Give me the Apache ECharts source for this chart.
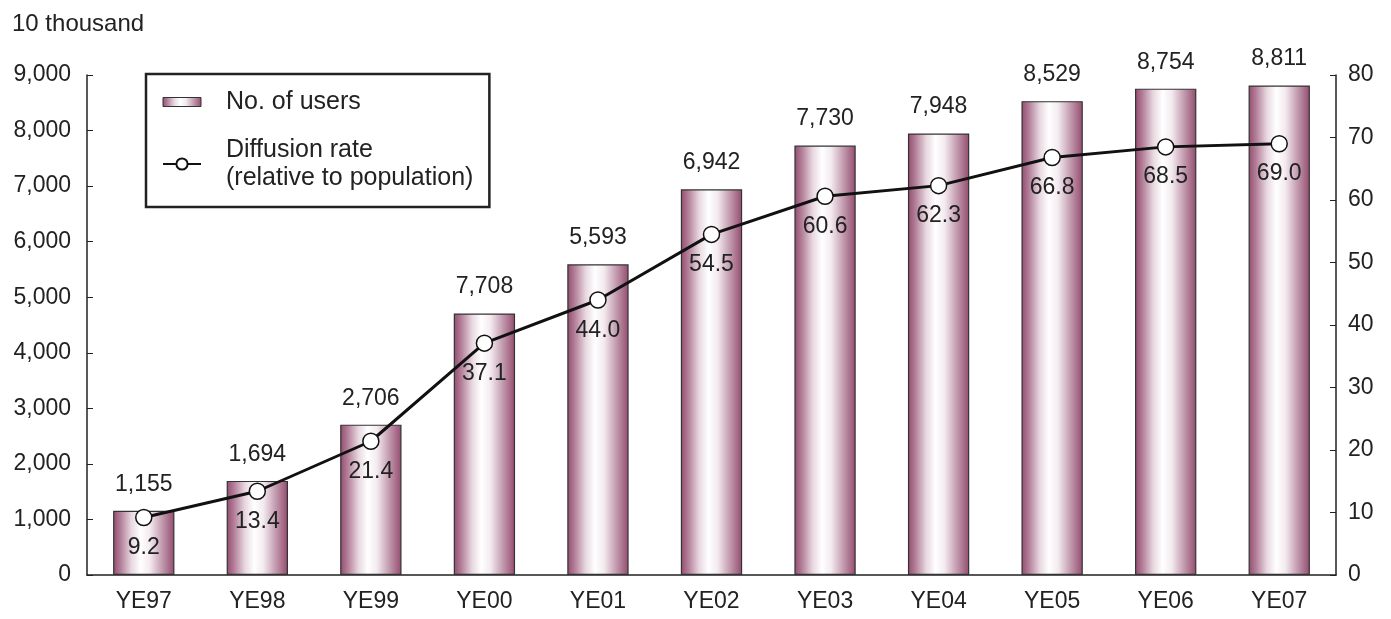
<!DOCTYPE html>
<html><head><meta charset="utf-8">
<script src="https://cdn.jsdelivr.net/npm/echarts@6/dist/echarts.min.js"></script>
<style>html,body{margin:0;padding:0;background:#fff}#c{width:1391px;height:619px}</style>
</head><body><div id="c"></div>
<script>
const categories = ['YE97','YE98','YE99','YE00','YE01','YE02','YE03','YE04','YE05','YE06','YE07'];
const users = [1155, 1694, 2706, 4708, 5593, 6942, 7730, 7948, 8529, 8754, 8811];
const userLabels = ['1,155','1,694','2,706','7,708','5,593','6,942','7,730','7,948','8,529','8,754','8,811'];
const diffusion = [9.2, 13.4, 21.4, 37.1, 44.0, 54.5, 60.6, 62.3, 66.8, 68.5, 69.0];

const FONT = 'Liberation Sans, Arial, sans-serif';
const FS = 23;
const chart = echarts.init(document.getElementById('c'));
const barGrad = new echarts.graphic.LinearGradient(0,0,1,0,[
  {offset:0, color:'#944b6f'},
  {offset:0.12, color:'#b27e98'},
  {offset:0.3, color:'#e8d8e0'},
  {offset:0.45, color:'#ffffff'},
  {offset:0.6, color:'#f3eaef'},
  {offset:0.8, color:'#c29aae'},
  {offset:1, color:'#944b6f'}
]);
chart.setOption({
  animation:false,
  textStyle:{fontFamily:FONT},
  title:{text:'10 thousand', left:7, top:7, textStyle:{fontFamily:FONT, fontSize:24, fontWeight:'normal', color:'#222'}},
  grid:{left:87, right:55, top:75, bottom:44},
  legend:{
    left:146, top:74, orient:'vertical',
    padding:[14, 16, 15, 16], itemGap:20,
    borderColor:'#222', borderWidth:2.5,
    itemWidth:38, itemHeight:14, symbolKeepAspect:true,
    textStyle:{fontFamily:FONT, fontSize:25, color:'#222', padding:[0,0,0,20], lineHeight:28},
    data:[
      {name:'No. of users', icon:'path://M0,0H38V9H0Z', itemStyle:{borderWidth:1, borderColor:'#333'}},
      {name:'Diffusion rate\n(relative to population)'}
    ]
  },
  xAxis:{
    type:'category', data:categories,
    axisLine:{lineStyle:{color:'#222', width:1.5}},
    axisTick:{inside:true, length:6, lineStyle:{color:'#222'}},
    axisLabel:{fontFamily:FONT, fontSize:FS, color:'#222', margin:15}
  },
  yAxis:[
    {type:'value', min:0, max:9000, interval:1000,
     axisLine:{show:true, lineStyle:{color:'#222', width:1.5}},
     axisTick:{show:true, inside:true, length:6, lineStyle:{color:'#222'}},
     splitLine:{show:false},
     axisLabel:{fontFamily:FONT, fontSize:FS, color:'#222', margin:16,
       formatter:v=>v.toLocaleString('en-US')}},
    {type:'value', min:0, max:80, interval:10, position:'right',
     axisLine:{show:true, lineStyle:{color:'#222', width:1.5}},
     axisTick:{show:true, inside:true, length:6, lineStyle:{color:'#222'}},
     splitLine:{show:false},
     axisLabel:{fontFamily:FONT, fontSize:FS, color:'#222', margin:12}}
  ],
  series:[
    {name:'No. of users', type:'bar', data:users, barWidth:'54%',
     itemStyle:{color:barGrad, borderColor:'#333', borderWidth:1.2},
     label:{show:true, position:'top', distance:15, fontFamily:FONT, fontSize:FS, color:'#222',
       formatter:p=>userLabels[p.dataIndex]}},
    {name:'Diffusion rate\n(relative to population)', type:'line', yAxisIndex:1, data:diffusion,
     symbol:'circle', symbolSize:16, z:5,
     lineStyle:{color:'#111', width:3},
     itemStyle:{color:'#fff', borderColor:'#111', borderWidth:1.5},
     label:{show:true, position:'bottom', distance:10, fontFamily:FONT, fontSize:FS, color:'#222',
       formatter:p=>p.value.toFixed(1)}}
  ]
});
</script></body></html>
